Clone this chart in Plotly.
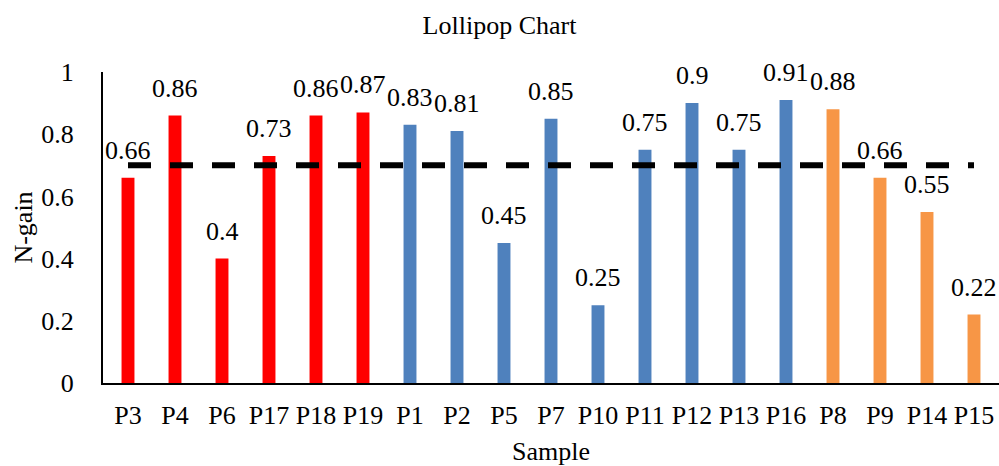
import plotly.graph_objects as go

categories = ["P3", "P4", "P6", "P17", "P18", "P19", "P1", "P2", "P5", "P7",
              "P10", "P11", "P12", "P13", "P16", "P8", "P9", "P14", "P15"]
values = [0.66, 0.86, 0.4, 0.73, 0.86, 0.87, 0.83, 0.81, 0.45, 0.85,
          0.25, 0.75, 0.9, 0.75, 0.91, 0.88, 0.66, 0.55, 0.22]
groups = ["red"] * 6 + ["blue"] * 9 + ["orange"] * 4
group_colors = {"red": "#FF0000", "blue": "#4F81BD", "orange": "#F79646"}
threshold = 0.7
y_ticks = [0, 0.2, 0.4, 0.6, 0.8, 1]

FONT = "Liberation Serif"

fig = go.Figure()
fig.add_trace(go.Bar(
    x=categories, y=values,
    marker=dict(color=[group_colors[g] for g in groups], line=dict(width=0)),
    showlegend=False, hoverinfo="x+y",
))
fig.add_trace(go.Scatter(
    x=categories, y=[threshold] * len(categories),
    mode="lines", line=dict(color="black", width=6, dash="23px,19px"),
    showlegend=False, hoverinfo="skip",
))

for c, v in zip(categories, values):
    fig.add_annotation(x=c, y=v, text=str(v), showarrow=False,
                       yanchor="bottom", yshift=11,
                       font=dict(family=FONT, size=26, color="black"))

fig.update_layout(
    width=999, height=466,
    margin=dict(l=103, r=0, t=72, b=83),
    paper_bgcolor="white", plot_bgcolor="white",
    font=dict(family=FONT, size=26, color="black"),
    bargap=0.725,
    title=dict(text="Lollipop Chart", x=0.5, xanchor="center",
               y=1 - 25 / 466, yanchor="middle",
               font=dict(family=FONT, size=26, color="black")),
    xaxis=dict(
        showline=True, linecolor="black", linewidth=2,
        showgrid=False, zeroline=False, ticks="",
        ticklabelstandoff=8,
        tickfont=dict(family=FONT, size=26, color="black"),
        title=dict(text="Sample", standoff=19,
                   font=dict(family=FONT, size=26, color="black")),
    ),
    yaxis=dict(
        range=[0, 1], tickvals=y_ticks, ticktext=[str(t) for t in y_ticks],
        showline=True, linecolor="black", linewidth=2,
        showgrid=False, zeroline=False, ticks="",
        ticklabelstandoff=22,
        tickfont=dict(family=FONT, size=26, color="black"),
        title=dict(text="N-gain", standoff=1,
                   font=dict(family=FONT, size=26, color="black")),
    ),
)

fig.write_html("out.html")
